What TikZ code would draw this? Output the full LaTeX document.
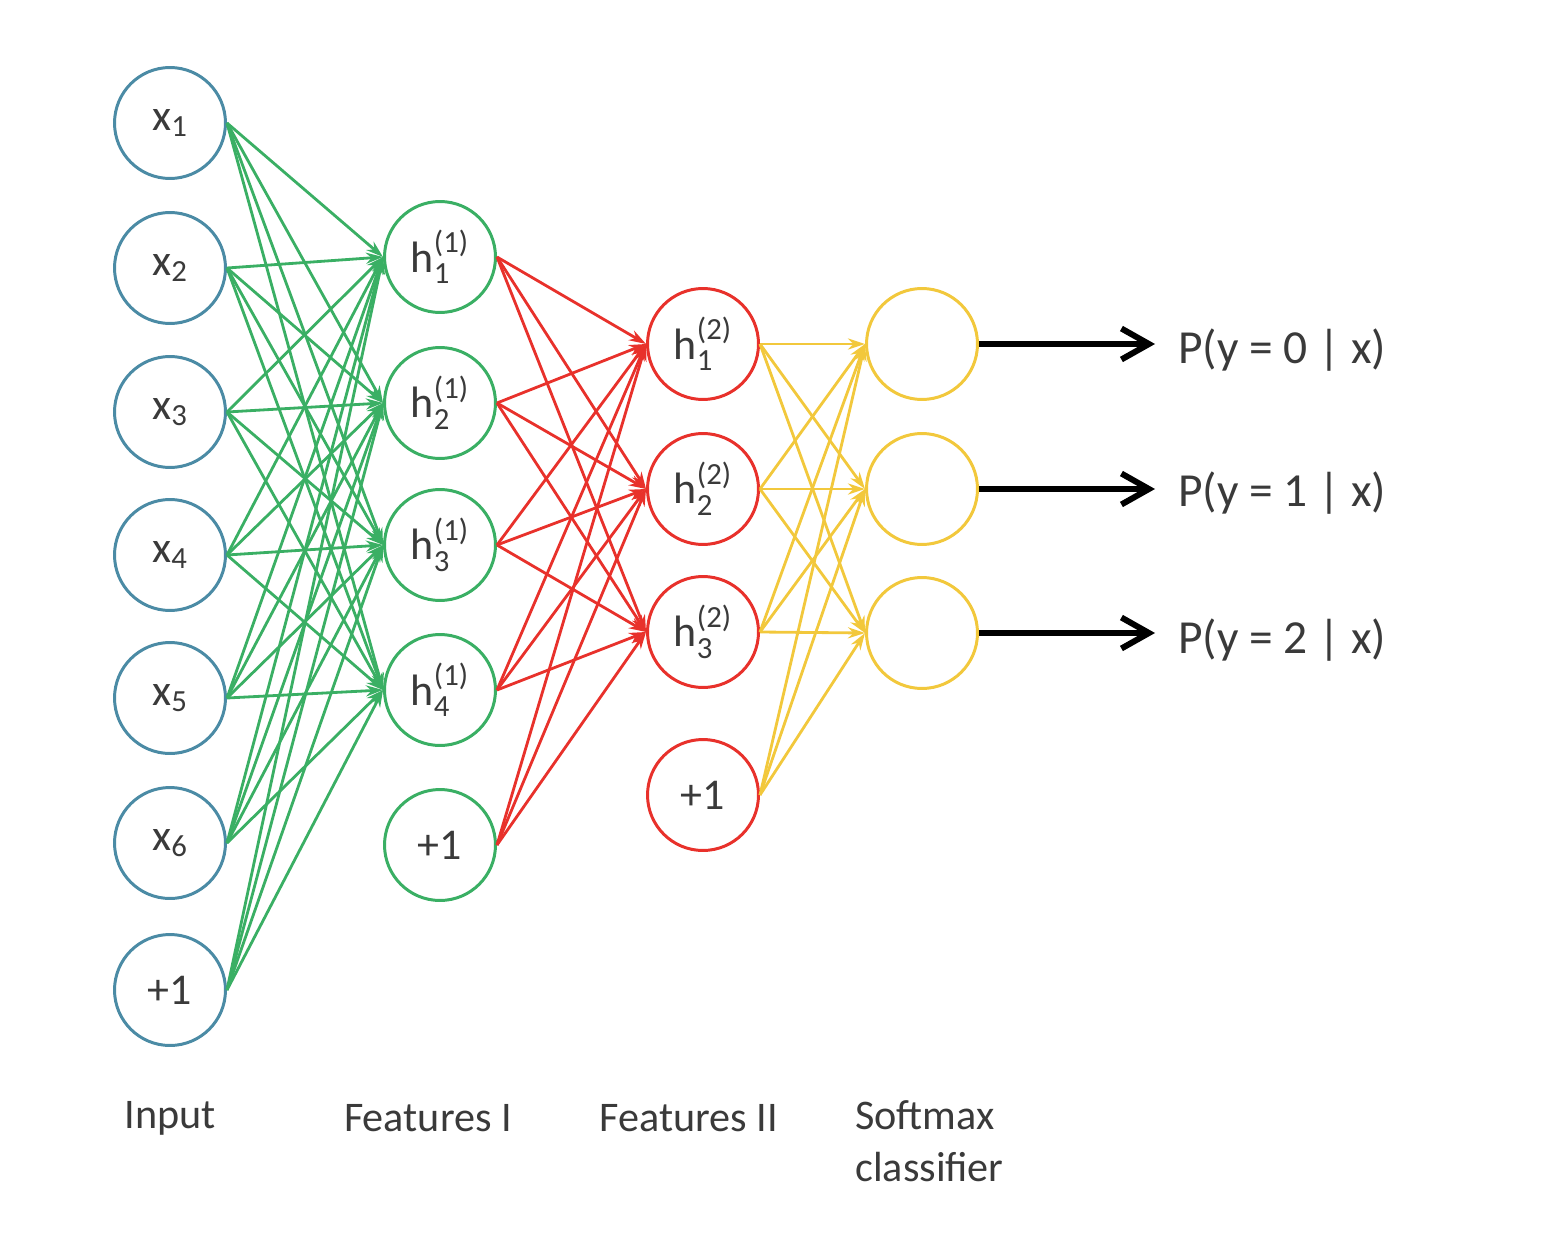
\documentclass[tikz,border=0pt]{standalone}
\usepackage{fontspec}
\usepackage{amsmath}
\setmainfont{Carlito}
\usetikzlibrary{arrows.meta}
\definecolor{inblue}{HTML}{4B8BA5}
\definecolor{fgreen}{HTML}{3AAF64}
\definecolor{fred}{HTML}{E8312B}
\definecolor{fyellow}{HTML}{F2C83C}
\definecolor{txt}{HTML}{3A3A3A}
\newcommand\hsub[2]{h$^{\text{(#1)}}_{\text{#2}}$}
\newcommand\xsub[1]{x$_{\text{#1}}$}
\begin{document}
\begin{tikzpicture}[x=0.02cm,y=-0.02cm,
  neuron/.style={circle,line width=1.7pt,minimum size=2.22cm,inner sep=0pt,
    font=\fontsize{25}{28}\selectfont,text=txt,fill=white},
  inneuron/.style={neuron,draw=inblue},
  gneuron/.style={neuron,draw=fgreen},
  rneuron/.style={neuron,draw=fred},
  yneuron/.style={neuron,draw=fyellow},
  conn/.style={line width=1.6pt,-{Stealth[length=0.34cm,width=0.22cm]}},
  gconn/.style={conn,draw=fgreen,fill=fgreen},
  rconn/.style={conn,draw=fred,fill=fred},
  yconn/.style={conn,draw=fyellow,fill=fyellow},
  outarrow/.style={line width=3.4pt,-{Straight Barb[length=0.55cm,width=0.62cm,line width=3.4pt]}},
  layerlabel/.style={font=\fontsize{24}{30}\selectfont,text=txt,inner sep=0pt},
  outlabel/.style={font=\fontsize{27}{30}\selectfont,text=txt,anchor=west,inner sep=0pt}
]
\useasboundingbox (0,0) rectangle (1554,1260);

% Input layer
\node[inneuron] (in1) at (170,123) {\xsub{1}};
\node[inneuron] (in2) at (170,268) {\xsub{2}};
\node[inneuron] (in3) at (170,412) {\xsub{3}};
\node[inneuron] (in4) at (170,555) {\xsub{4}};
\node[inneuron] (in5) at (170,698) {\xsub{5}};
\node[inneuron] (in6) at (170,843) {\xsub{6}};
\node[inneuron] (in7) at (170,990) {+1};

% Features I
\node[gneuron] (fa1) at (440,257) {\hsub{1}{1}};
\node[gneuron] (fa2) at (440,403) {\hsub{1}{2}};
\node[gneuron] (fa3) at (440,545) {\hsub{1}{3}};
\node[gneuron] (fa4) at (440,690) {\hsub{1}{4}};
\node[gneuron] (fa5) at (440,845) {+1};

% Features II
\node[rneuron] (fb1) at (703,344) {\hsub{2}{1}};
\node[rneuron] (fb2) at (703,489) {\hsub{2}{2}};
\node[rneuron] (fb3) at (703,632) {\hsub{2}{3}};
\node[rneuron] (fb4) at (703,795) {+1};

% Softmax
\node[yneuron] (sm1) at (922,344) {};
\node[yneuron] (sm2) at (922,489) {};
\node[yneuron] (sm3) at (922,633) {};

% Connections
\foreach \i in {1,...,7}
  \foreach \j in {1,...,4}
    \draw[gconn] (in\i.east) -- (fa\j.west);
\foreach \i in {1,...,5}
  \foreach \j in {1,...,3}
    \draw[rconn] (fa\i.east) -- (fb\j.west);
\foreach \i in {1,...,4}
  \foreach \j in {1,...,3}
    \draw[yconn] (fb\i.east) -- (sm\j.west);

% Outputs
\coordinate (o1) at (1155,344);
\coordinate (o2) at (1155,489);
\coordinate (o3) at (1155,640);
\draw[outarrow] (sm1.east) -- (o1);
\draw[outarrow] (sm2.east) -- (o2);
\draw[outarrow] (sm3.east) -- (sm3.east -| o3);
\node[outlabel] (p0) at (1178,350) {P(y = 0 | x)};
\node[outlabel] (p1) at (1178,493) {P(y = 1 | x)};
\node[outlabel] (p2) at (1178,640) {P(y = 2 | x)};

% Layer labels
\node[layerlabel] (l1) at (170,1118) {Input};
\node[layerlabel] (l2) at (428,1118) {Features I};
\node[layerlabel] (l3) at (689,1118) {Features II};
\node[layerlabel,anchor=north west,align=left] (l4) at (855,1100) {Softmax\\classifier};
\end{tikzpicture}
\end{document}
